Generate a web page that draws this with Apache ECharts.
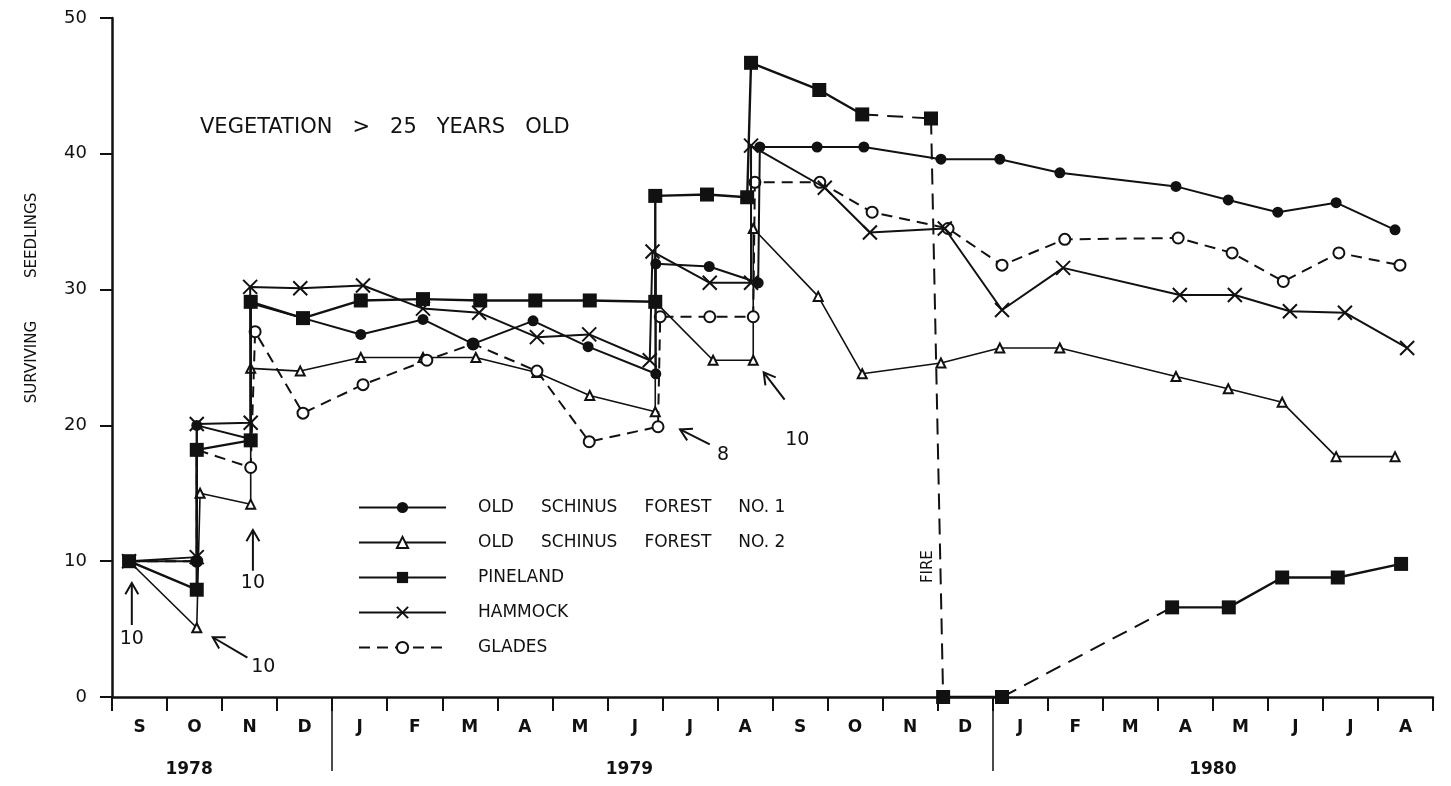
<!DOCTYPE html>
<html><head><meta charset="utf-8">
<script src="https://cdn.jsdelivr.net/npm/echarts@6/dist/echarts.min.js"></script>
<style>html,body{margin:0;padding:0;background:#fff}#c{width:1451px;height:786px}</style>
</head><body><div id="c"></div>
<script>
// ---- tick labels ----
const monthLabels = ['S','O','N','D','J','F','M','A','M','J','J','A','S','O','N','D','J','F','M','A','M','J','J','A'];
const yearLabels = ['1978','1979','1980'];
const yearLabelAt = [1.4, 9.4, 20.0];
const yearBreaks = [4, 16];
const yTickValues = [0, 10, 20, 30, 40, 50];

// ---- series names ----
const seriesNames = ['OLD SCHINUS FOREST NO. 1','OLD SCHINUS FOREST NO. 2','PINELAND','HAMMOCK','GLADES'];

// ---- data: [time in months since 1 Sep 1978, surviving seedlings] ----
const schinus1 = [[0.31,10],[1.54,10],[1.54,20.0],[2.52,19.0],[2.52,29.0],[3.47,27.9],[4.52,26.7],[5.65,27.8],[6.56,26.0],[7.65,27.7],[8.65,25.8],[9.88,23.8],[9.88,31.9],[10.85,31.7],[11.74,30.5],[11.77,40.5],[12.81,40.5],[13.66,40.5],[15.06,39.6],[16.13,39.6],[17.22,38.6],[19.33,37.6],[20.28,36.6],[21.18,35.7],[22.24,36.4],[23.31,34.4]];
const schinus2 = [[0.31,10],[1.54,5.1],[1.60,15.0],[2.52,14.2],[2.52,24.2],[3.42,24.0],[4.52,25.0],[5.65,25.0],[6.61,25.0],[7.72,23.9],[8.68,22.2],[9.87,21.0],[9.87,29.1],[10.92,24.8],[11.65,24.8],[11.65,34.5],[12.83,29.5],[13.63,23.8],[15.06,24.6],[16.13,25.7],[17.22,25.7],[19.33,23.6],[20.28,22.7],[21.26,21.7],[22.24,17.7],[23.31,17.7]];
const pineland = [[0.31,10],[1.54,7.9],[1.54,18.2],[2.52,18.9],[2.52,29.1],[3.47,27.9],[4.52,29.2],[5.65,29.3],[6.69,29.2],[7.69,29.2],[8.68,29.2],[9.87,29.1],[9.87,36.9],[10.81,37.0],[11.54,36.8],[11.61,46.7],[12.85,44.7],[13.63,42.9],[14.88,42.6],[15.10,0],[16.17,0],[19.26,6.6],[20.29,6.6],[21.26,8.8],[22.27,8.8],[23.42,9.8]];
const pinelandDashedSegments = [17, 18, 20]; // segment i -> i+1 drawn dashed
const hammock = [[0.31,10],[1.54,10.3],[1.54,20.1],[2.52,20.2],[2.51,30.2],[3.42,30.1],[4.56,30.3],[5.65,28.6],[6.67,28.3],[7.72,26.5],[8.67,26.7],[9.77,24.8],[9.82,32.8],[10.86,30.5],[11.61,30.5],[11.61,40.6],[12.95,37.5],[13.77,34.2],[15.13,34.5],[16.17,28.5],[17.28,31.6],[19.40,29.6],[20.40,29.6],[21.40,28.4],[22.40,28.3],[23.53,25.7]];
const glades = [[0.31,10],[1.54,10],[1.54,18.2],[2.52,16.9],[2.60,26.9],[3.47,20.9],[4.56,23.0],[5.72,24.8],[6.56,26.0],[7.72,24.0],[8.67,18.8],[9.92,19.9],[9.96,28.0],[10.86,28.0],[11.65,28.0],[11.68,37.9],[12.86,37.9],[13.81,35.7],[15.19,34.5],[16.17,31.8],[17.31,33.7],[19.37,33.8],[20.35,32.7],[21.28,30.6],[22.29,32.7],[23.40,31.8]];

// ---- annotations (data coordinates) ----
const arrows = [
  {from:[0.36,5.3], to:[0.36,8.4]},
  {from:[2.46,2.9], to:[1.83,4.4]},
  {from:[2.56,9.3], to:[2.56,12.3]},
  {from:[10.86,18.6], to:[10.32,19.7]},
  {from:[12.22,21.9], to:[11.84,23.9]}
];
const notes = [
  {text:'10', at:[0.36,4.3]},
  {text:'10', at:[2.75,2.2]},
  {text:'10', at:[2.56,8.4]},
  {text:'8',  at:[11.1,17.8]},
  {text:'10', at:[12.45,18.9]}
];
const fireLabel = {text:'FIRE', at:[14.83,9.6]};
const titleText = 'VEGETATION   >   25   YEARS   OLD';
const yTitle = 'SURVIVING         SEEDLINGS';

const FONT = 'DejaVu Sans';
const BLACK = '#111';
const BREAK = '-';

function splitPineland(points, dashed) {
  const solid = [], dash = [];
  points.forEach((p, i) => {
    solid.push(p);
    if (dashed.includes(i) && i < points.length - 1) solid.push([p[0], BREAK]);
  });
  dashed.forEach(i => { dash.push(points[i], points[i+1], [points[i+1][0], BREAK]); });
  return {solid, dash};
}
const pin = splitPineland(pineland, pinelandDashedSegments);

const chart = echarts.init(document.getElementById('c'), null, {renderer:'canvas'});
const xSymbol = 'path://M0,0L10,10M10,0L0,10';

const option = {
  animation: false,
  backgroundColor: '#fff',
  grid: {left:112, right:18, top:18, bottom:89, containLabel:false},
  xAxis: [
    {type:'category', data: monthLabels, boundaryGap:true, position:'bottom',
     axisLine:{show:true, lineStyle:{color:BLACK, width:2.5}},
     axisTick:{show:true, interval:0, length:14, lineStyle:{color:BLACK, width:2}},
     axisLabel:{interval:0, margin:22, color:BLACK, fontFamily:FONT, fontSize:17, fontWeight:'bold'},
     splitLine:{show:false}},
    {type:'value', min:0, max:24, show:false},
    {type:'value', min:0, max:24, position:'bottom',
     axisLine:{show:false},
     axisTick:{show:true, customValues: yearBreaks, length:74, lineStyle:{color:BLACK, width:1.5}},
     axisLabel:{show:true, customValues: yearLabelAt, margin:64, color:BLACK, fontFamily:FONT, fontSize:17, fontWeight:'bold',
       formatter: v => { const i = yearLabelAt.findIndex(a => Math.abs(a - v) < 1e-6); return i >= 0 ? yearLabels[i] : ''; }},
     splitLine:{show:false}}
  ],
  yAxis: [{type:'value', min:0, max:50, interval:10,
     axisLine:{show:true, lineStyle:{color:BLACK, width:2.5}},
     axisTick:{show:true, length:12, lineStyle:{color:BLACK, width:2}},
     axisLabel:{margin:25, color:BLACK, fontFamily:FONT, fontSize:18,
       formatter: v => yTickValues.includes(v) ? String(v) : ''},
     splitLine:{show:false}}],
  legend: {
    show:true, orient:'vertical', left:353, top:494,
    itemWidth:87, itemHeight:14, itemGap:18,
    data: seriesNames,
    textStyle:{color:BLACK, fontFamily:FONT, fontSize:17, lineHeight:16},
    formatter: n => '     ' + n.split(' ').join('     ').replace('NO.     ', 'NO. '),
    selectedMode:false
  },
  series: [
    {name:seriesNames[0], type:'line', xAxisIndex:1, data:schinus1, symbol:'circle', symbolSize:11,
     itemStyle:{color:BLACK}, lineStyle:{color:BLACK, width:2}, z:5},
    {name:seriesNames[1], type:'line', xAxisIndex:1, data:schinus2, symbol:'emptyTriangle', symbolSize:9,
     itemStyle:{color:BLACK, borderWidth:1.5}, lineStyle:{color:BLACK, width:1.6}, z:4},
    {name:seriesNames[2], type:'line', xAxisIndex:1, data:pin.solid, symbol:'rect', symbolSize:14,
     connectNulls:false, itemStyle:{color:BLACK}, lineStyle:{color:BLACK, width:2.4}, z:6},
    {name:'pineland-dashed', type:'line', xAxisIndex:1, data:pin.dash, symbol:'none', connectNulls:false,
     lineStyle:{color:BLACK, width:2, type:[16,9]}, z:3},
    {name:seriesNames[3], type:'line', xAxisIndex:1, data:hammock, symbol:xSymbol, symbolSize:14,
     itemStyle:{color:BLACK, borderColor:BLACK, borderWidth:2}, lineStyle:{color:BLACK, width:2}, z:5},
    {name:seriesNames[4], type:'line', xAxisIndex:1, data:glades, symbol:'emptyCircle', symbolSize:11,
     itemStyle:{color:BLACK, borderWidth:1.6}, lineStyle:{color:BLACK, width:2, type:[11,7]}, z:4}
  ],
  graphic: []
};
chart.setOption(option);

function px(pt){ return chart.convertToPixel({xAxisIndex:1, yAxisIndex:0}, pt); }
const g = [];
arrows.forEach(a => {
  const p0 = px(a.from), p1 = px(a.to);
  const dx = p1[0]-p0[0], dy = p1[1]-p0[1], L = Math.hypot(dx,dy);
  const ux = dx/L, uy = dy/L, h = 13, s = Math.sin(Math.PI/6), c = Math.cos(Math.PI/6);
  const l = [p1[0] - h*(ux*c - uy*s), p1[1] - h*(uy*c + ux*s)];
  const r = [p1[0] - h*(ux*c + uy*s), p1[1] - h*(uy*c - ux*s)];
  g.push({type:'polyline', shape:{points:[p0,p1]}, style:{stroke:BLACK, lineWidth:2, fill:null}, z:10});
  g.push({type:'polyline', shape:{points:[l,p1,r]}, style:{stroke:BLACK, lineWidth:2, fill:null}, z:10});
});
notes.forEach(n => {
  const p = px(n.at);
  g.push({type:'text', x:p[0], y:p[1], style:{text:n.text, fill:BLACK, font:'19px "'+FONT+'"', align:'center', verticalAlign:'middle'}, z:10});
});
const fp = px(fireLabel.at);
g.push({type:'text', x:fp[0], y:fp[1], rotation:Math.PI/2, style:{text:fireLabel.text, fill:BLACK, font:'15px "'+FONT+'"', align:'center', verticalAlign:'middle'}, z:10});
g.push({type:'text', x:200, y:128, style:{text:titleText, fill:BLACK, font:'21px "'+FONT+'"', align:'left', verticalAlign:'middle'}, z:10});
g.push({type:'text', x:32, y:298, rotation:Math.PI/2, style:{text:yTitle, fill:BLACK, font:'15px "'+FONT+'"', align:'center', verticalAlign:'middle'}, z:10});
chart.setOption({graphic: g});
</script></body></html>
